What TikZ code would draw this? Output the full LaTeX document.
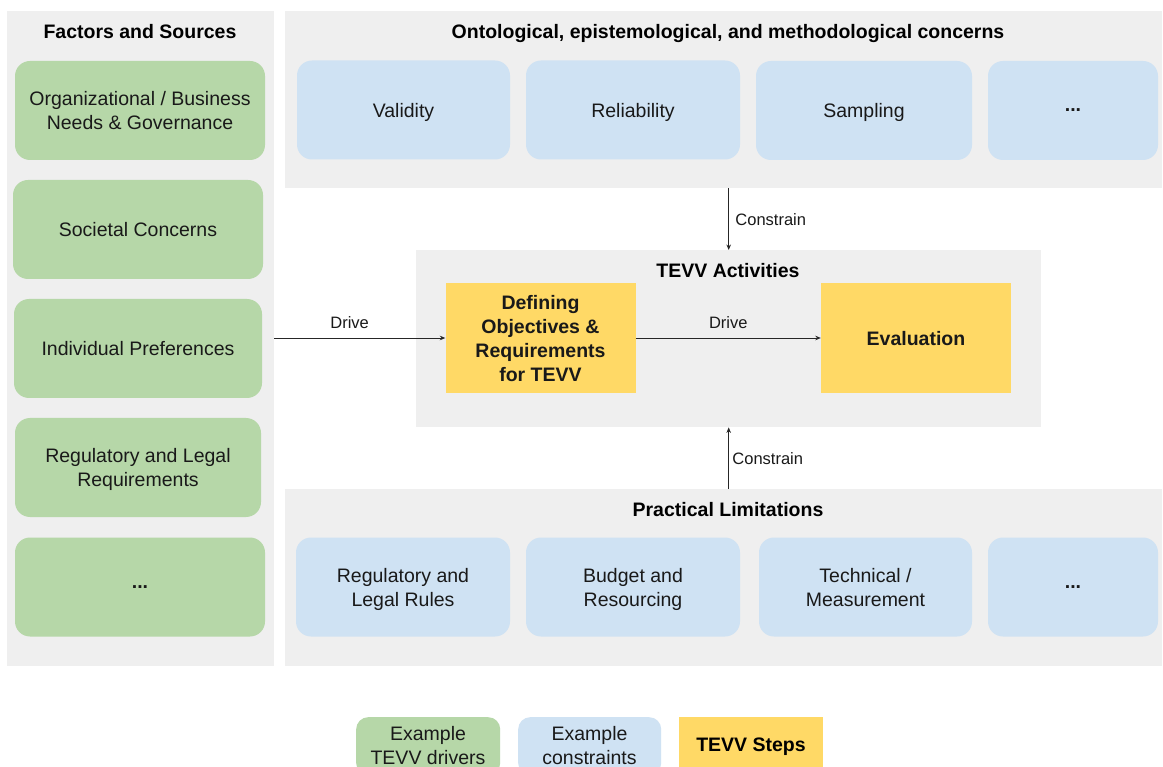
\documentclass[tikz,border=0pt]{standalone}
\usepackage{fontspec}
\setmainfont{Liberation Sans}
\usetikzlibrary{arrows.meta}
\definecolor{panelgray}{HTML}{EFEFEF}
\definecolor{drvgreen}{HTML}{B6D7A8}
\definecolor{cstblue}{HTML}{CFE2F3}
\definecolor{stepyellow}{HTML}{FFD966}
\tikzset{
  panel/.style={fill=panelgray, draw=none, anchor=north west, inner sep=0},
  txt/.style={font=\fontsize{19.5}{24}\selectfont, align=center, text=black!90, text depth=0pt},
  gbox/.style={txt, fill=drvgreen, rounded corners=15, draw=none, minimum width=#1, minimum height=99},
  gbox/.default=250,
  bbox/.style={txt, fill=cstblue, rounded corners=15, draw=none, minimum width=#1, minimum height=99},
  bbox/.default=214,
  ybox/.style={txt, font=\fontsize{19.5}{24}\selectfont\bfseries, fill=stepyellow, draw=none, minimum width=190, minimum height=110},
  ttl/.style={font=\fontsize{19.5}{24}\selectfont\bfseries, text=black, text depth=0pt},
  lbl/.style={font=\fontsize{16.5}{20}\selectfont, text=black!90, text depth=0pt},
  arr/.style={-{Stealth[length=5.5,width=4.5]}, line width=0.8, draw=black!85},
}
\newcommand{\mydots}{\textbf{...}}
\begin{document}
\begin{tikzpicture}[x=1pt,y=-1pt]
\useasboundingbox (0,0) rectangle (1163,767);
\fill[white] (0,0) rectangle (1163,767);
\begin{scope}
\clip (0,0) rectangle (1163,767);
% panels
\node[panel, minimum width=267, minimum height=655] (lp) at (7,11) {};
\node[panel, minimum width=877, minimum height=177] (tp) at (285,11) {};
\node[panel, minimum width=877, minimum height=177] (bp) at (285,489) {};
\node[panel, minimum width=625, minimum height=177] (act) at (416,250) {};
% titles
\node[ttl] (lpt) at (140,31) {Factors and Sources};
\node[ttl] (tpt) at (728,31) {Ontological, epistemological, and methodological concerns};
\node[ttl] (bpt) at (728,509) {Practical Limitations};
\node[ttl] (actt) at (728,270) {TEVV Activities};
% green drivers
\node[gbox] (g1) at (140,110.5) {Organizational / Business\\Needs \& Governance};
\node[gbox] (g2) at (138,229.5) {Societal Concerns};
\node[gbox=248] (g3) at (138,348.5) {Individual Preferences};
\node[gbox=246] (g4) at (138,467.5) {Regulatory and Legal\\Requirements};
\node[gbox] (g5) at (140,587) {\mydots};
% top constraints
\node[bbox=213] (t1) at (403.5,110) {Validity};
\node[bbox=214] (t2) at (633,110) {Reliability};
\node[bbox=216] (t3) at (864,110.5) {Sampling};
\node[bbox=170] (t4) at (1073,110.5) {\mydots};
% bottom constraints
\node[bbox] (b1) at (403,587) {Regulatory and\\Legal Rules};
\node[bbox] (b2) at (633,587) {Budget and\\Resourcing};
\node[bbox=213] (b3) at (865.5,587) {Technical /\\Measurement};
\node[bbox=170] (b4) at (1073,587) {\mydots};
% TEVV steps
\node[ybox] (def) at (540.5,338) {Defining\\Objectives \&\\Requirements\\for TEVV};
\node[ybox] (eva) at (916,338) {Evaluation};
% connectors
\draw[arr] (lp.east |- def.west) -- node[lbl, above=6pt, pos=0.44] (d1) {Drive} (def.west);
\draw[arr] (def.east) -- node[lbl, above=6pt, pos=0.5] (d2) {Drive} (eva.west);
\draw[arr] (tp.south -| act.north) -- node[lbl, right=3pt] (c1) {Constrain} (act.north);
\draw[arr] (bp.north -| act.south) -- node[lbl, right=0pt] (c2) {Constrain} (act.south);
% legend
\node[txt, fill=drvgreen, rounded corners=12, minimum width=144, minimum height=58, anchor=north west] (lg1) at (356,717) {};
\node[txt, anchor=center] (lg1t) at (428,745) {Example\\TEVV drivers};
\node[txt, fill=cstblue, rounded corners=12, minimum width=143, minimum height=58, anchor=north west] (lg2) at (518,717) {};
\node[txt, anchor=center] (lg2t) at (589.5,745) {Example\\constraints};
\node[fill=stepyellow, minimum width=144, minimum height=58, anchor=north west, inner sep=0] (lg3) at (679,717) {};
\node[ttl] (lg3t) at (751,745) {TEVV Steps};
\end{scope}
\end{tikzpicture}
\end{document}
